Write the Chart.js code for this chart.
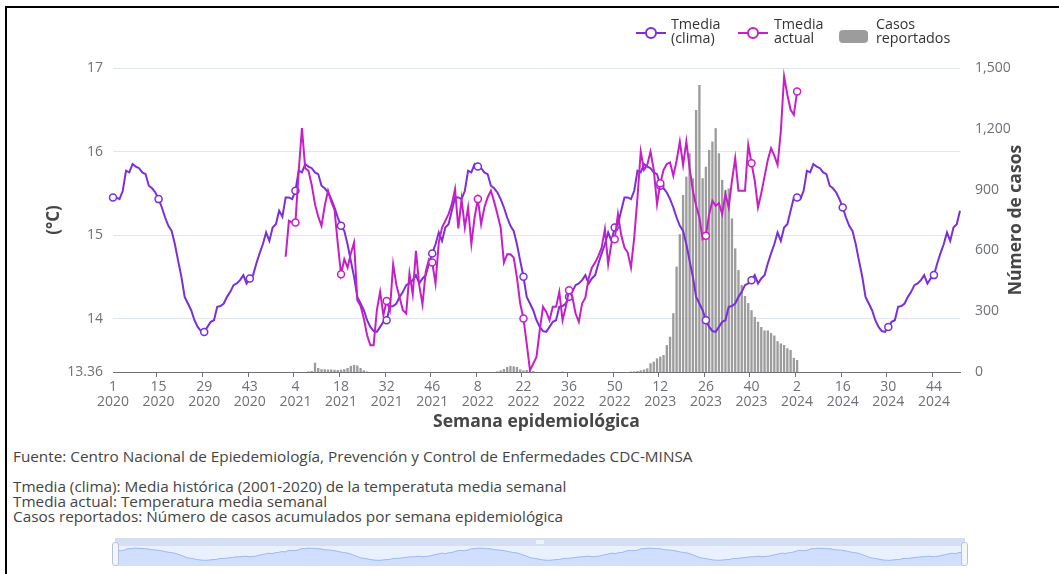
<!DOCTYPE html>
<html lang="es">
<head>
<meta charset="utf-8">
<title>Tmedia y casos reportados por semana epidemiológica</title>
<script src="https://cdn.jsdelivr.net/npm/chart.js@4.4.1/dist/chart.umd.min.js"></script>
<style>
  html, body { margin: 0; padding: 0; background: #fff; }
  #page { position: relative; width: 1059px; height: 574px; overflow: hidden; font-family: "Open Sans", sans-serif; }
  #frame { position: absolute; left: 5px; top: 6px; width: 1100px; height: 600px; border-left: 2px solid #000; border-top: 2px solid #000; }
  #main { position: absolute; left: 0; top: 0; }
  .leg { position: absolute; font-size: 14.3px; line-height: 14px; color: #333; }
  .sym { position: absolute; }
  .notes { position: absolute; left: 13px; font-size: 15.3px; line-height: 15px; color: #444; white-space: nowrap; }
  #sliderBox { position: absolute; left: 115px; top: 538px; width: 850px; height: 28px; background: rgba(135,175,255,0.18); }
  #sliderTop { position: absolute; left: 0; top: 0; width: 850px; height: 8px; background: #d5def2; }
  #sliderGrip { position: absolute; left: 421px; top: 2px; width: 8px; height: 4px; background: #eef2fb; }
  #slider { position: absolute; left: 0; top: 8px; }
  .handle { position: absolute; top: 542px; width: 5px; height: 22px; border: 1px solid #b8c2d6; border-radius: 3px; background: #f4f6fb; }
</style>
</head>
<body>
<div id="page">
  <div id="frame"></div>
  <canvas id="main" width="1059" height="440"></canvas>

  <svg class="sym" style="left:636px;top:26px" width="30" height="14">
    <line x1="0" y1="7" x2="30" y2="7" stroke="#7b2fd6" stroke-width="2"/>
    <circle cx="15" cy="7" r="5" fill="#fff" stroke="#7b2fd6" stroke-width="2"/>
  </svg>
  <div class="leg" style="left:671px;top:17px">Tmedia<br>(clima)</div>
  <svg class="sym" style="left:738px;top:26px" width="30" height="14">
    <line x1="0" y1="7" x2="30" y2="7" stroke="#c71fc8" stroke-width="2"/>
    <circle cx="15" cy="7" r="5" fill="#fff" stroke="#c71fc8" stroke-width="2"/>
  </svg>
  <div class="leg" style="left:774px;top:17px">Tmedia<br>actual</div>
  <svg class="sym" style="left:839px;top:30px" width="29" height="13">
    <rect x="0" y="0" width="29" height="13" rx="4" fill="#9c9c9c"/>
  </svg>
  <div class="leg" style="left:876px;top:17px">Casos<br>reportados</div>

  <div class="notes" style="top:449px">Fuente: Centro Nacional de Epiedemiología, Prevención y Control de Enfermedades CDC-MINSA</div>
  <div class="notes" style="top:479px">Tmedia (clima): Media histórica (2001-2020) de la temperatuta media semanal<br>Tmedia actual: Temperatura media semanal<br>Casos reportados: Número de casos acumulados por semana epidemiológica</div>

  <div id="sliderBox">
    <div id="sliderTop"><div id="sliderGrip"></div></div>
    <canvas id="slider" width="850" height="20"></canvas>
  </div>
  <div class="handle" style="left:112px"></div>
  <div class="handle" style="left:961px"></div>
</div>

<script>
// años y número de semanas epidemiológicas de cada año
const anios = [2020, 2021, 2022, 2023, 2024];
const semanasPorAnio = [53, 52, 52, 52, 52];

// Tmedia (clima): media histórica por semana (semana 1 a 53)
const tmediaClima = [
  15.45, 15.45, 15.43, 15.53, 15.77, 15.75, 15.85, 15.82, 15.80, 15.75,
  15.73, 15.59, 15.56, 15.51, 15.43, 15.33, 15.21, 15.11, 15.05, 14.89,
  14.69, 14.50, 14.26, 14.18, 14.10, 13.98, 13.90, 13.85, 13.84, 13.90,
  13.96, 13.98, 14.14, 14.15, 14.18, 14.26, 14.32, 14.40, 14.42, 14.46,
  14.52, 14.42, 14.48, 14.52, 14.66, 14.78, 14.89, 15.03, 14.93, 15.09,
  15.13, 15.29, 15.22
];

// Tmedia actual por año (semana 1 en adelante)
const tmediaActual2021 = [
  14.74, 15.17, 15.15, 15.15, 15.76, 16.28, 15.80, 15.77, 15.60, 15.37,
  15.22, 15.11, 15.35, 15.53, 15.40, 15.30, 14.90, 14.53, 14.71, 14.61,
  14.78, 14.91, 14.22, 14.15, 14.00, 13.80, 13.68, 13.68, 14.10, 14.32,
  14.04, 14.21, 14.10, 14.65, 14.40, 14.25, 14.10, 14.06, 14.54, 14.29,
  14.81, 14.40, 14.17, 14.56, 14.71, 14.67, 14.42, 14.91, 15.09, 15.17,
  15.25, 15.37
];
const tmediaActual2022 = [
  15.55, 15.08, 15.43, 15.09, 15.33, 14.89, 15.21, 15.43, 15.13, 15.33,
  15.45, 15.53, 15.40, 15.25, 15.09, 14.67, 14.77, 14.77, 14.73, 14.49,
  14.18, 14.00, 13.70, 13.38, 13.46, 13.54, 13.86, 14.14, 14.08, 13.98,
  14.14, 14.14, 14.32, 13.98, 14.14, 14.34, 14.26, 14.06, 13.96, 14.18,
  14.25, 14.48, 14.61, 14.67, 14.75, 14.85, 15.07, 14.65, 14.90, 14.95,
  15.25, 15.00
];
const tmediaActual2023 = [
  14.85, 14.79, 14.61, 14.97, 15.45, 16.00, 15.78, 15.84, 16.00, 15.78,
  15.37, 15.62, 15.78, 15.85, 15.87, 15.71, 15.89, 16.12, 15.84, 16.12,
  15.80, 15.53, 15.35, 15.21, 14.95, 14.99, 15.25, 15.41, 15.35, 15.38,
  15.25, 15.49, 15.33, 15.65, 15.92, 15.53, 15.53, 15.53, 16.08, 15.86,
  15.65, 15.33, 15.50, 15.70, 15.90, 16.04, 15.95, 15.84, 16.24, 16.90,
  16.68, 16.50
];
const tmediaActual2024 = [16.44, 16.72];

// Casos reportados por año (semana 1 en adelante)
const casos2021 = [
  0, 0, 0, 0, 0, 0, 0, 3, 5, 46,
  20, 14, 14, 12, 12, 11, 10, 12, 14, 20,
  30, 35, 32, 20, 8, 3, 0, 0, 0, 0,
  0, 0, 0, 0, 0, 0, 0, 0, 0, 0,
  0, 0, 0, 0, 0, 0, 0, 0, 0, 0,
  0, 0
];
const casos2022 = [
  0, 0, 0, 0, 0, 0, 0, 0, 0, 0,
  0, 0, 0, 3, 8, 15, 25, 30, 28, 25,
  13, 8, 10, 12, 5, 0, 0, 0, 0, 0,
  0, 0, 0, 2, 0, 0, 0, 0, 0, 0,
  0, 0, 0, 0, 0, 0, 0, 0, 0, 0,
  0, 0
];
const casos2023 = [
  0, 0, 2, 3, 5, 8, 12, 18, 43, 51,
  67, 76, 84, 133, 174, 290, 520, 680, 873, 964,
  1079, 956, 1293, 1416, 956, 1013, 1096, 1137, 1203, 1079,
  948, 898, 906, 758, 610, 503, 429, 375, 340, 305,
  272, 248, 222, 205, 205, 192, 180, 152, 141, 133,
  117, 109
];
const casos2024 = [70, 59];

// marcas de los ejes
const ticksTemp = [13.36, 14, 15, 16, 17];
const ticksCasos = [0, 300, 600, 900, 1200, 1500];

const actualPorAnio = { 2021: tmediaActual2021, 2022: tmediaActual2022, 2023: tmediaActual2023, 2024: tmediaActual2024 };
const casosPorAnio = { 2021: casos2021, 2022: casos2022, 2023: casos2023, 2024: casos2024 };

// tabla semana a semana
const etiquetas = [], serieClima = [], serieActual = [], serieCasos = [];
anios.forEach((anio, i) => {
  for (let s = 1; s <= semanasPorAnio[i]; s++) {
    etiquetas.push([String(s), String(anio)]);
    serieClima.push(tmediaClima[s - 1]);
    const a = actualPorAnio[anio];
    serieActual.push(a && a[s - 1] !== undefined ? a[s - 1] : null);
    const c = casosPorAnio[anio];
    serieCasos.push(c && c[s - 1] !== undefined ? c[s - 1] : null);
  }
});

const GRIS = '#6e7079';
const PASO = 14;
const marca = ctx => (ctx.dataIndex % PASO === 0 ? 3.5 : 0);

Chart.defaults.font.family = '"Open Sans", sans-serif';
Chart.defaults.animation = false;

const tituloDerecho = {
  id: 'tituloDerecho',
  afterDraw(chart) {
    const { ctx, chartArea } = chart;
    ctx.save();
    ctx.translate(1016, (chartArea.top + chartArea.bottom) / 2);
    ctx.rotate(-Math.PI / 2);
    ctx.font = 'bold 17.5px "Open Sans", sans-serif';
    ctx.fillStyle = '#464646';
    ctx.textAlign = 'center';
    ctx.textBaseline = 'middle';
    ctx.fillText('Número de casos', 0, 0);
    ctx.restore();
  }
};

new Chart(document.getElementById('main'), {
  data: {
    labels: etiquetas,
    datasets: [
      {
        type: 'line',
        label: 'Tmedia (clima)',
        data: serieClima,
        yAxisID: 'yTemp',
        borderColor: '#7b2fd6',
        borderWidth: 2,
        pointRadius: marca,
        pointBackgroundColor: '#fff',
        pointBorderColor: '#7b2fd6',
        pointBorderWidth: 1.5,
        tension: 0,
        order: 2
      },
      {
        type: 'line',
        label: 'Tmedia actual',
        data: serieActual,
        yAxisID: 'yTemp',
        borderColor: '#c71fc8',
        borderWidth: 2,
        pointRadius: marca,
        pointBackgroundColor: '#fff',
        pointBorderColor: '#c71fc8',
        pointBorderWidth: 1.5,
        tension: 0,
        spanGaps: false,
        order: 1
      },
      {
        type: 'bar',
        label: 'Casos reportados',
        data: serieCasos,
        yAxisID: 'yCasos',
        backgroundColor: '#9c9c9c',
        barPercentage: 0.72,
        categoryPercentage: 1,
        order: 3
      }
    ]
  },
  options: {
    responsive: false,
    devicePixelRatio: 1,
    layout: { padding: { top: 68, left: 0, right: 0, bottom: 0 } },
    plugins: { legend: { display: false }, tooltip: { enabled: false } },
    scales: {
      x: {
        type: 'category',
        offset: false,
        afterFit: s => { s.height = 68; },
        border: { display: true, color: GRIS, width: 1 },
        grid: {
          drawOnChartArea: false,
          drawTicks: true,
          tickLength: 5,
          color: ctx => (ctx.index % PASO === 0 ? GRIS : 'rgba(0,0,0,0)')
        },
        ticks: {
          autoSkip: false,
          minRotation: 0,
          maxRotation: 0,
          padding: 2,
          color: GRIS,
          font: { size: 14, lineHeight: 1.08 },
          callback: (v, i) => (i % PASO === 0 ? etiquetas[i] : '')
        },
        title: {
          display: true,
          text: 'Semana epidemiológica',
          color: '#464646',
          font: { size: 17.5, weight: 'bold' },
          padding: { top: 0, bottom: 7 }
        }
      },
      yTemp: {
        position: 'left',
        min: 13.36,
        max: 17,
        afterFit: s => { s.width = 113; },
        afterBuildTicks: s => { s.ticks = ticksTemp.map(v => ({ value: v })); },
        border: { display: false },
        grid: { color: '#e0e6f1', lineWidth: 1, drawTicks: false },
        ticks: {
          padding: 10,
          color: GRIS,
          font: { size: 14 },
          callback: v => String(v)
        },
        title: {
          display: true,
          text: '(°C)',
          color: '#464646',
          font: { size: 17, weight: 'bold' },
          padding: { top: 44, bottom: 0 }
        }
      },
      yCasos: {
        position: 'right',
        min: 0,
        max: 1500,
        afterFit: s => { s.width = 99; },
        afterBuildTicks: s => { s.ticks = ticksCasos.map(v => ({ value: v })); },
        border: { display: false },
        grid: { display: false, drawTicks: false },
        ticks: {
          padding: 15,
          color: GRIS,
          font: { size: 14 },
          callback: v => v.toLocaleString('en-US')
        }
      }
    }
  },
  plugins: [tituloDerecho]
});

// barra deslizante inferior con la sombra de Tmedia (clima)
new Chart(document.getElementById('slider'), {
  type: 'line',
  data: {
    labels: etiquetas,
    datasets: [{
      data: serieClima,
      borderColor: '#9db6ee',
      borderWidth: 1,
      backgroundColor: 'rgba(143,176,247,0.28)',
      fill: 'start',
      pointRadius: 0,
      tension: 0
    }]
  },
  options: {
    responsive: false,
    devicePixelRatio: 1,
    layout: { padding: 0 },
    plugins: { legend: { display: false }, tooltip: { enabled: false } },
    scales: {
      x: { display: false, offset: false },
      y: { display: false, min: 12.9, max: 16.2 }
    }
  }
});
</script>
</body>
</html>
